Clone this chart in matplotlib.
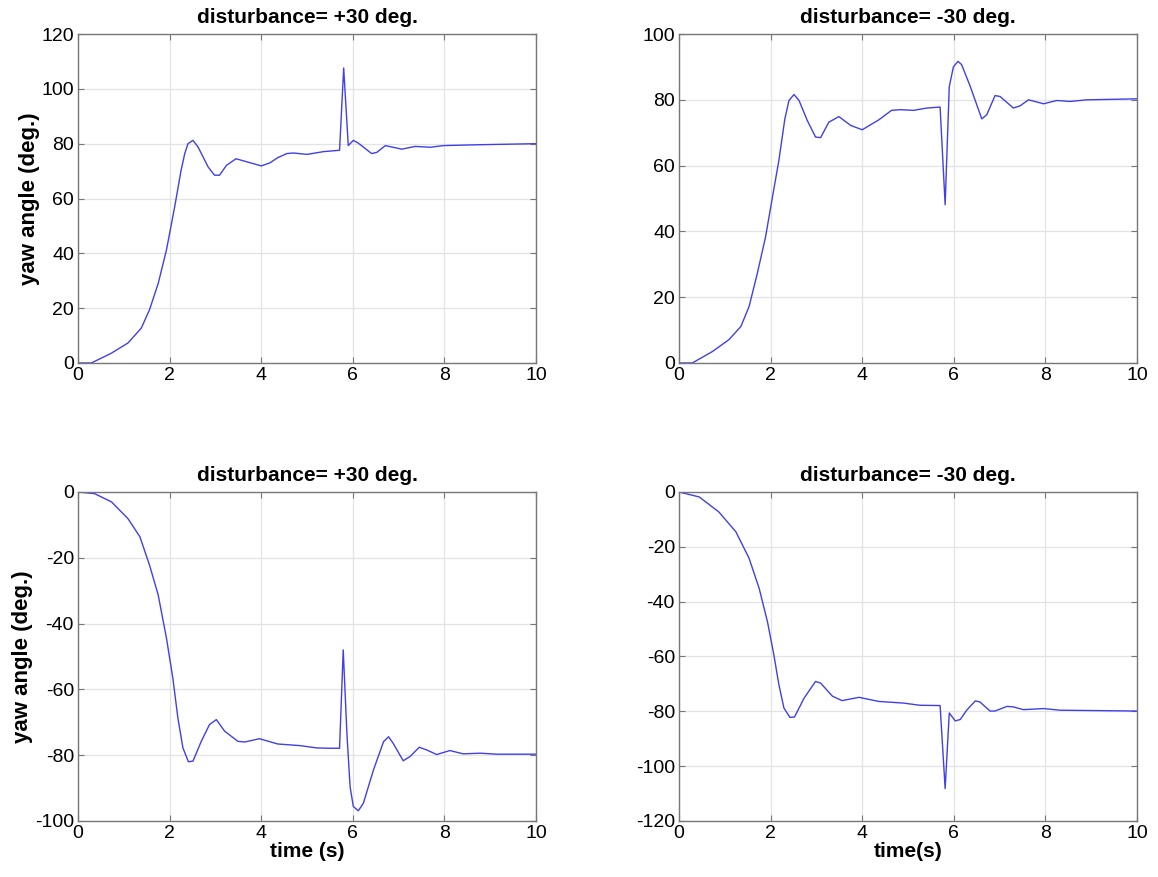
import numpy as np
import matplotlib
matplotlib.use('Agg')
import matplotlib.pyplot as plt

plt.rcParams['font.family'] = ['Liberation Sans', 'DejaVu Sans']
plt.rcParams['axes.unicode_minus'] = False

# top left: disturbance +30, positive turn
t_a = [0, 0.29, 0.73, 1.09, 1.38, 1.56, 1.75, 1.93, 2.11, 2.25, 2.33, 2.4, 2.51, 2.62, 2.84,
       2.98, 3.09, 3.24, 3.45, 3.64, 4.0, 4.19, 4.36, 4.56, 4.7, 5.0, 5.36, 5.71, 5.8, 5.9,
       6.01, 6.12, 6.41, 6.52, 6.71, 7.07, 7.36, 7.69, 7.98, 8.71, 10]
y_a = [0, 0, 3.6, 7.3, 12.7, 19.4, 29, 41.2, 57, 70.3, 76.4, 80, 81.2, 78.8, 71.5,
       68.5, 68.5, 72.1, 74.5, 73.6, 71.9, 73, 74.9, 76.4, 76.6, 76.1, 77.1, 77.6, 107.6, 79.3,
       81.2, 80.2, 76.4, 76.8, 79.3, 78, 79, 78.7, 79.3, 79.6, 80]

# top right: disturbance -30, positive turn
t_b = [0, 0.29, 0.73, 1.09, 1.35, 1.53, 1.71, 1.89, 2.04, 2.18, 2.31, 2.4, 2.51, 2.62, 2.8,
       2.98, 3.09, 3.27, 3.49, 3.75, 4.0, 4.36, 4.64, 4.83, 5.12, 5.41, 5.7, 5.81, 5.9, 5.99,
       6.09, 6.17, 6.36, 6.61, 6.72, 6.9, 7.01, 7.3, 7.45, 7.63, 7.96, 8.25, 8.54, 8.9, 10]
y_b = [0, 0, 3.5, 7.1, 11.1, 17.2, 27.3, 38.4, 50.5, 61.6, 74.2, 79.8, 81.6, 79.8, 73.7,
       68.7, 68.5, 73.2, 74.9, 72.2, 70.9, 73.9, 76.8, 77, 76.8, 77.5, 77.8, 48.1, 84, 90,
       91.7, 90.7, 84, 74.2, 75.5, 81.3, 81, 77.5, 78.2, 80, 78.8, 79.8, 79.5, 80, 80.3]

# bottom left: disturbance +30, negative turn
t_c = [0, 0.36, 0.73, 1.09, 1.35, 1.56, 1.75, 1.93, 2.07, 2.18, 2.29, 2.41, 2.51, 2.69, 2.87,
       3.02, 3.2, 3.49, 3.64, 3.96, 4.36, 4.85, 5.21, 5.5, 5.71, 5.79, 5.87, 5.94, 6.01, 6.12,
       6.23, 6.45, 6.67, 6.78, 6.88, 7.1, 7.25, 7.45, 7.61, 7.83, 8.12, 8.41, 8.78, 9.14, 10]
y_c = [0, -0.5, -3, -8.1, -13.6, -22.2, -31.3, -44.4, -56.6, -68.7, -77.8, -82, -81.8,
       -75.8, -70.7, -69.2, -72.7, -75.8, -76, -75, -76.6, -77.1, -77.8, -77.9, -77.9, -48,
       -73.3, -89.6, -95.6, -96.9, -94.6, -84.5, -75.9, -74.4, -76.4, -81.7, -80.4, -77.6,
       -78.4, -79.8, -78.6, -79.6, -79.4, -79.7, -79.7]

# bottom right: disturbance -30, negative turn
t_d = [0, 0.44, 0.87, 1.24, 1.53, 1.75, 1.93, 2.07, 2.18, 2.29, 2.42, 2.52, 2.73, 2.98, 3.09,
       3.35, 3.56, 3.93, 4.36, 4.9, 5.26, 5.7, 5.81, 5.9, 6.03, 6.14, 6.28, 6.47, 6.57, 6.79,
       6.9, 7.16, 7.3, 7.52, 7.96, 8.32, 10]
y_d = [0, -1.8, -7.3, -14.5, -24.2, -35.2, -47.3, -59.4, -70.3, -78.8, -82.2, -82.1, -75.2,
       -69.1, -69.7, -74.5, -76.1, -74.9, -76.4, -77, -77.8, -77.9, -108.2, -80.6, -83.5, -83,
       -79.6, -76.2, -76.6, -79.9, -79.9, -78.2, -78.4, -79.4, -79, -79.6, -79.9]

titles = ['disturbance= +30 deg.', 'disturbance= -30 deg.',
          'disturbance= +30 deg.', 'disturbance= -30 deg.']
ylims = [(0, 120), (0, 100), (-100, 0), (-120, 0)]
xlabels = [None, None, 'time (s)', 'time(s)']
ylabels = ['yaw angle (deg.)', None, 'yaw angle (deg.)', None]

fig = plt.figure(figsize=(11.58, 8.77), dpi=100)
boxes = [[0.0674, 0.5861, 0.3955, 0.3751], [0.5864, 0.5861, 0.3955, 0.3751],
         [0.0674, 0.0639, 0.3955, 0.3751], [0.5864, 0.0639, 0.3955, 0.3751]]
data = [(t_a, y_a), (t_b, y_b), (t_c, y_c), (t_d, y_d)]

for i in range(4):
    ax = fig.add_axes(boxes[i])
    t, y = data[i]
    ax.plot(t, y, color='#4040e6', lw=1.0)
    ax.set_xlim(0, 10)
    ax.set_ylim(*ylims[i])
    ax.set_xticks(np.arange(0, 11, 2))
    ax.set_yticks(np.arange(ylims[i][0], ylims[i][1] + 1, 20))
    ax.grid(True, color='#e3e3e3', lw=0.9)
    ax.tick_params(direction='in', top=True, right=True, labelsize=14,
                   color='#777777', length=4, pad=3)
    for s in ax.spines.values():
        s.set_color('#777777')
        s.set_linewidth(1.0)
    ax.set_title(titles[i], fontsize=15, fontweight='bold', pad=8)
    if xlabels[i]:
        ax.set_xlabel(xlabels[i], fontsize=15, fontweight='bold', labelpad=0)
    if ylabels[i]:
        ax.set_ylabel(ylabels[i], fontsize=16, fontweight='bold', labelpad=1)

plt.savefig('out.png', dpi=100)
plt.close()
